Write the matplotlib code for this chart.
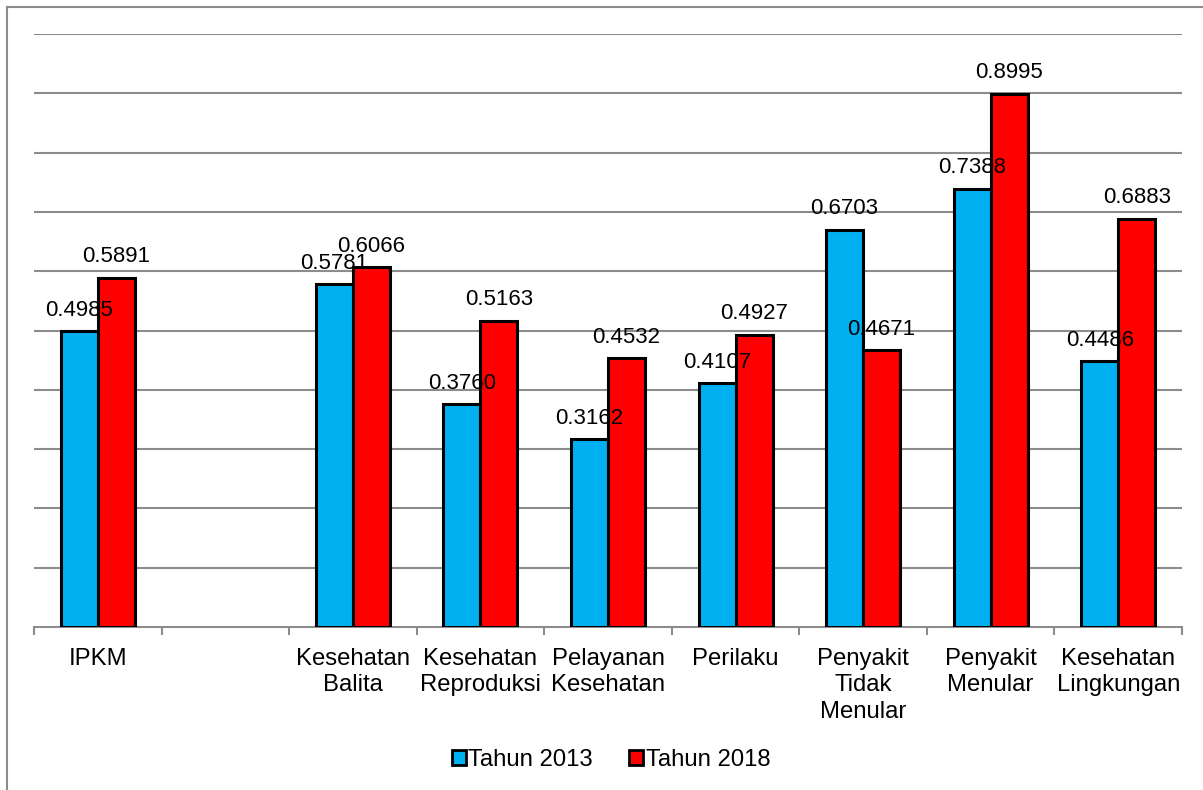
import matplotlib
matplotlib.use("Agg")
import matplotlib.pyplot as plt
from matplotlib.lines import Line2D
from matplotlib.patches import Patch
import numpy as np

plt.rcParams["font.family"] = ["Liberation Sans", "DejaVu Sans"]

categories = ["IPKM", "", "Kesehatan\nBalita", "Kesehatan\nReproduksi",
              "Pelayanan\nKesehatan", "Perilaku", "Penyakit\nTidak\nMenular",
              "Penyakit\nMenular", "Kesehatan\nLingkungan"]
tahun_2013 = [0.4985, None, 0.5781, 0.3760, 0.3162, 0.4107, 0.6703, 0.7388, 0.4486]
tahun_2018 = [0.5891, None, 0.6066, 0.5163, 0.4532, 0.4927, 0.4671, 0.8995, 0.6883]
series_names = ["Tahun 2013", "Tahun 2018"]
series_colors = ["#00B0F0", "#FF0000"]

fig = plt.figure(figsize=(12.03, 7.90), dpi=100)
ax = fig.add_axes([34 / 1203, 1 - 627 / 790, (1182 - 34) / 1203, (627 - 34) / 790])

x = np.arange(len(categories))
w = 0.29
grid_c = "#8c8c8c"

for vals, off, col in [(tahun_2013, -w / 2, series_colors[0]), (tahun_2018, w / 2, series_colors[1])]:
    for xi, v in zip(x, vals):
        if v is None:
            continue
        ax.bar(xi + off, v, width=w, color=col, edgecolor="black", linewidth=2.2, zorder=3)
for vals, off in [(tahun_2013, -w / 2), (tahun_2018, w / 2)]:
    for xi, v in zip(x, vals):
        if v is None:
            continue
        ax.annotate(f"{v:.4f}", (xi + off, v), xytext=(0, 7.5), textcoords="offset points",
                    ha="center", va="bottom", fontsize=16, zorder=5)

ax.set_xlim(-0.5, len(categories) - 0.5)
ax.set_ylim(0, 1.0)
ax.set_yticks(np.arange(0.1, 1.01, 0.1))
ax.yaxis.grid(True, color=grid_c, linewidth=1.5, zorder=0)
ax.tick_params(axis="y", left=False, labelleft=False)
for s in ["left", "right", "top"]:
    ax.spines[s].set_visible(False)
ax.spines["bottom"].set_color(grid_c)
ax.spines["bottom"].set_linewidth(1.5)

ax.set_xticks(x)
ax.set_xticklabels(categories, fontsize=17.2, linespacing=1.27)
ax.tick_params(axis="x", which="major", length=0, pad=15)
ax.set_xticks(np.arange(-0.5, len(categories), 1.0), minor=True)
ax.tick_params(axis="x", which="minor", length=6, width=1.5, color=grid_c)

handles = [Patch(facecolor=c, edgecolor="black", linewidth=2.0) for c in series_colors]
fig.legend(handles, series_names, loc="center", bbox_to_anchor=(611 / 1203, 1 - 760 / 790),
           ncol=2, frameon=False, fontsize=17.2, handlelength=0.6, handleheight=0.6,
           handletextpad=0.1, columnspacing=1.5)

# outer chart border (cropped at right and bottom)
fig.add_artist(Line2D([7 / 1203, 7 / 1203], [0, 1 - 7 / 790], color=grid_c, linewidth=1.5))
fig.add_artist(Line2D([7 / 1203, 1], [1 - 7 / 790, 1 - 7 / 790], color=grid_c, linewidth=1.5))

fig.savefig("out.png", dpi=100)
